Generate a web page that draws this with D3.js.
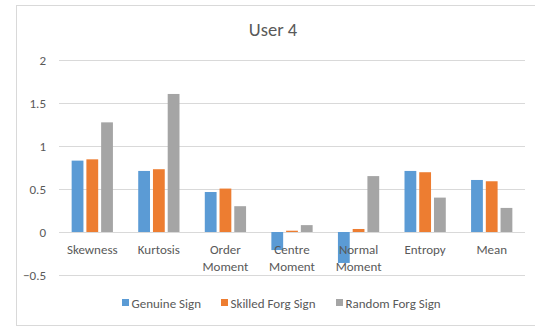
<!DOCTYPE html>
<html>
<head>
<meta charset="utf-8">
<script src="https://cdn.jsdelivr.net/npm/d3@7"></script>
<style>
  html, body { margin: 0; padding: 0; background: #fff; }
  svg { display: block; }
  text { font-family: Carlito, Calibri, Lato, "Open Sans", sans-serif; }
</style>
</head>
<body>
<svg id="chart" width="535" height="327"></svg>
<script>
// Feature statistics per signature type
const categories = [["Skewness"], ["Kurtosis"], ["Order", "Moment"], ["Centre", "Moment"], ["Normal", "Moment"], ["Entropy"], ["Mean"]];
const seriesNames = ["Genuine Sign", "Skilled Forg Sign", "Random Forg Sign"];
const genuine = [0.83, 0.71, 0.465, -0.21, -0.36, 0.71, 0.605];
const skilled = [0.845, 0.73, 0.505, 0.015, 0.035, 0.695, 0.59];
const random = [1.275, 1.605, 0.30, 0.08, 0.65, 0.40, 0.28];
const yTicks = [-0.5, 0, 0.5, 1, 1.5, 2];
const colors = ["#5b9bd5", "#ed7d31", "#a5a5a5"];

const values = [genuine, skilled, random];
const svg = d3.select("#chart");

// chart frame
svg.append("rect")
  .attr("x", 16.5).attr("y", 5.5)
  .attr("width", 530).attr("height", 320)
  .attr("fill", "#fff").attr("stroke", "#d9d9d9").attr("stroke-width", 1);

const plot = { left: 59, right: 525, top: 60, bottom: 275 };

const x = d3.scaleBand()
  .domain(d3.range(categories.length))
  .range([plot.left, plot.right])
  .paddingInner(0.38).paddingOuter(0.19);

const xs = d3.scaleBand()
  .domain(d3.range(seriesNames.length))
  .range([0, x.bandwidth()])
  .paddingInner(0.2);

const y = d3.scaleLinear().domain([-0.5, 2]).range([plot.bottom, plot.top]);

// gridlines
const yAxis = d3.axisLeft(y).tickValues(yTicks).tickSize(-(plot.right - plot.left)).tickFormat(d3.format("~g")).tickPadding(12);
const gy = svg.append("g").attr("transform", `translate(${plot.left},0)`).call(yAxis);
gy.select(".domain").remove();
gy.selectAll(".tick line").attr("stroke", "#d9d9d9").attr("stroke-width", 1);
gy.selectAll(".tick text").attr("fill", "#595959").attr("font-size", 13).attr("x", -13);

// bars
const groups = svg.append("g").selectAll("g")
  .data(values)
  .join("g")
  .attr("fill", (d, i) => colors[i]);

groups.each(function (vals, si) {
  d3.select(this).selectAll("rect")
    .data(vals)
    .join("rect")
    .attr("x", (v, ci) => x(ci) + xs(si))
    .attr("width", xs.bandwidth())
    .attr("y", v => y(Math.max(0, v)))
    .attr("height", v => Math.abs(y(v) - y(0)));
});

// category labels
const labels = svg.append("g").selectAll("text")
  .data(categories)
  .join("text")
  .attr("x", (d, i) => x(i) + x.bandwidth() / 2)
  .attr("y", 254)
  .attr("text-anchor", "middle")
  .attr("fill", "#595959")
  .attr("font-size", 13);
labels.each(function (lines) {
  d3.select(this).selectAll("tspan")
    .data(lines)
    .join("tspan")
    .attr("x", d3.select(this).attr("x"))
    .attr("dy", (l, k) => k === 0 ? 0 : 16.5)
    .text(l => l);
});

// title
svg.append("text")
  .attr("x", 273).attr("y", 36)
  .attr("text-anchor", "middle")
  .attr("fill", "#595959")
  .attr("font-size", 18.5)
  .text("User 4");

// legend
const legendX = [122, 221, 336];
const legend = svg.append("g").selectAll("g")
  .data(seriesNames)
  .join("g")
  .attr("transform", (d, i) => `translate(${legendX[i]},303)`);
legend.append("rect").attr("x", 0).attr("y", -4).attr("width", 7).attr("height", 7)
  .attr("fill", (d, i) => colors[i]);
legend.append("text").attr("x", 9.5).attr("y", 4.5)
  .attr("fill", "#595959").attr("font-size", 13)
  .text(d => d);
</script>
</body>
</html>
